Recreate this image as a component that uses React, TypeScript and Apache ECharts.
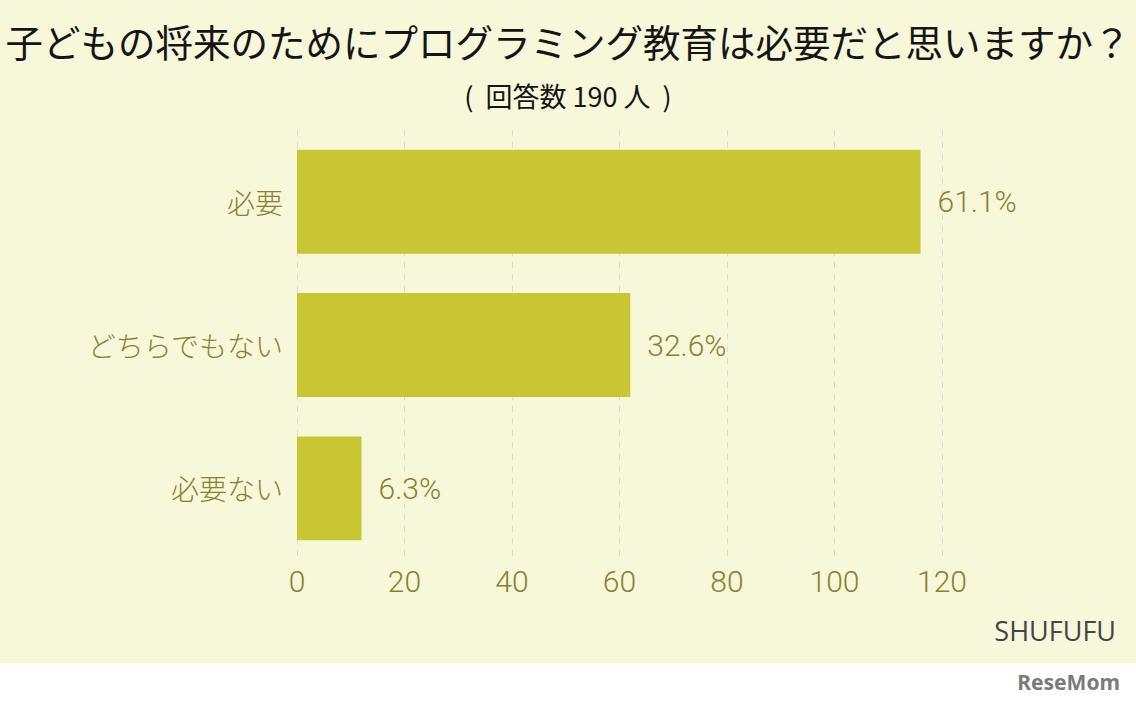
import React, { useEffect, useRef } from "react";
import * as echarts from "echarts";

const titleText = "子どもの将来のためにプログラミング教育は必要だと思いますか？";
const subtitleText = "(  回答数 190 人  )";
const categories = ["必要", "どちらでもない", "必要ない"];
const counts = [116, 62, 12];
const percents = ["61.1%", "32.6%", "6.3%"];
const sourceText = "SHUFUFU";
const logoText = "ReseMom";

const OLIVE = "#87822f";
const BAR = "#c9c634";
const BG = "#f7f7da";
const JP = "'Noto Sans CJK JP', 'Noto Sans', sans-serif";
const NUM = "Roboto, 'Noto Sans', sans-serif";

export default function App() {
  const ref = useRef<HTMLDivElement>(null);
  useEffect(() => {
    document.body.style.margin = "0";
    const chart = echarts.init(ref.current!, null, { renderer: "svg" });
    chart.setOption({
      animation: false,
      backgroundColor: "#ffffff",
      title: [
        {
          text: titleText,
          left: "center",
          top: 22,
          padding: 0,
          textStyle: { fontSize: 37.5, fontWeight: "normal", color: "#151515", fontFamily: JP },
        },
        {
          text: subtitleText,
          left: "center",
          top: 82,
          padding: 0,
          textStyle: { fontSize: 27, fontWeight: "normal", color: "#151515", fontFamily: JP },
        },
      ],
      graphic: [
        {
          type: "rect",
          z: -10,
          silent: true,
          shape: { x: 0, y: 0, width: 1136, height: 663 },
          style: { fill: BG },
        },
        {
          type: "text",
          right: 20,
          top: 617,
          style: { text: sourceText, fontSize: 27, fill: "#454545", fontFamily: "'Open Sans', 'Noto Sans', sans-serif" },
        },
        {
          type: "text",
          right: 16,
          top: 671,
          style: { text: logoText, fontSize: 21, fontWeight: "bold", fill: "#7a7a7a", fontFamily: "'Liberation Sans Narrow', 'Noto Sans', sans-serif" },
        },
      ],
      grid: { left: 297, right: 194, top: 130, bottom: 145, containLabel: false },
      xAxis: {
        type: "value",
        min: 0,
        max: 120,
        interval: 20,
        axisLine: { show: false },
        axisTick: { show: false },
        splitLine: { show: true, lineStyle: { type: [6, 6], color: "#dcdcd4", width: 1 } },
        axisLabel: { fontSize: 30, color: OLIVE, fontFamily: NUM, fontWeight: 300, margin: 6 },
      },
      yAxis: {
        type: "category",
        data: categories,
        inverse: true,
        axisLine: { show: false },
        axisTick: { show: false },
        axisLabel: { fontSize: 28, color: OLIVE, fontFamily: JP, fontWeight: 300, margin: 14 },
      },
      series: [
        {
          type: "bar",
          data: counts,
          barCategoryGap: "27.5%",
          itemStyle: { color: BAR },
          label: {
            show: true,
            position: "right",
            distance: 17,
            fontSize: 30,
            color: OLIVE,
            fontFamily: NUM,
            fontWeight: 300,
            formatter: (p: any) => percents[p.dataIndex],
          },
        },
      ],
    });
    return () => chart.dispose();
  }, []);
  return <div ref={ref} style={{ width: 1136, height: 705 }} />;
}
